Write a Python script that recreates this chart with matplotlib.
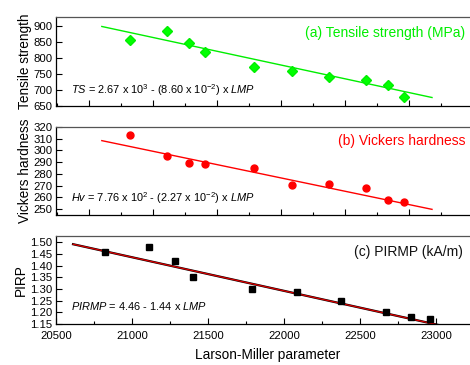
import numpy as np
import matplotlib
matplotlib.use("Agg")
import matplotlib.pyplot as plt

plt.rcParams['font.family'] = ['Liberation Sans', 'DejaVu Sans']
plt.rcParams['mathtext.fontset'] = 'custom'
plt.rcParams['mathtext.rm'] = 'Liberation Sans'
plt.rcParams['mathtext.it'] = 'Liberation Sans:italic'

# Larson-Miller parameter of each sample
lmp = [20822, 21110, 21283, 21403, 21789, 22086, 22375, 22668, 22836, 22958]
ts = [856, 884, 848, 819, 771, 760, 740, 730, 715, 677]
hv = [313.5, 295.4, 289.5, 288.6, 285.3, 270.5, 271.3, 268.3, 257.5, 256.4]
pirp = [1.460, 1.481, 1.419, 1.350, 1.300, 1.286, 1.250, 1.201, 1.178, 1.171]

fit_x = [20600, 23180]
fit_x_c = [20612, 23200]

fig = plt.figure(figsize=(4.7, 3.65), dpi=100)
W = 470.0
H = 365.0
left = 56 / W
width = (480 - 56) / W

ax1 = fig.add_axes([left, 1 - 106 / H, width, 89 / H])
ax2 = fig.add_axes([left, 1 - 215 / H, width, 88 / H])
ax3 = fig.add_axes([left, 1 - 324 / H, width, 88 / H])

for ax in (ax1, ax2, ax3):
    ax.tick_params(direction='in', which='major', length=4, labelsize=8.2, width=0.8, pad=2.5)
    ax.tick_params(direction='in', which='minor', length=2, width=0.8)
    for s in ax.spines.values():
        s.set_linewidth(0.9)
    ax.spines['top'].set_color('#555555')

# (a) tensile strength
x = np.array(fit_x)
ax1.plot(x, 2.67e3 - 8.60e-2 * x, color='#00ee00', lw=1)
ax1.plot(lmp, ts, 'D', color='#00ff00', ms=5.5, mec='#00ee00')
ax1.set_xlim(20242, 23555)
ax1.set_ylim(650, 928)
ax1.set_yticks([650, 700, 750, 800, 850, 900])
ax1.set_xticks(np.arange(20500, 23501, 500))
ax1.set_xticks(np.arange(20250, 23501, 250), minor=True)
ax1.tick_params(labelbottom=False)
ax1.set_ylabel('Tensile strength', fontsize=9.8, labelpad=1)
fig.text(465 / W, 1 - 33 / H, '(a) Tensile strength (MPa)', color='#00ee00',
         fontsize=10, ha='right', va='center')
fig.text(71 / W, 1 - 90 / H,
         r'$\it{TS}$ = 2.67 x 10$^3$ - (8.60 x 10$^{-2}$) x $\it{LMP}$',
         fontsize=7.9, ha='left', va='center')

# (b) Vickers hardness
ax2.plot(x, 7.76e2 - 2.27e-2 * x, color='#ff0000', lw=1)
ax2.plot(lmp, hv, 'o', color='#ff0000', ms=5)
ax2.set_xlim(20242, 23555)
ax2.set_ylim(245, 320)
ax2.set_yticks(np.arange(250, 321, 10))
ax2.set_xticks(np.arange(20500, 23501, 500))
ax2.set_xticks(np.arange(20250, 23501, 250), minor=True)
ax2.tick_params(labelbottom=False)
ax2.set_ylabel('Vickers hardness', fontsize=9.8, labelpad=1)
fig.text(465 / W, 1 - 141 / H, '(b) Vickers hardness', color='#ff0000',
         fontsize=10, ha='right', va='center')
fig.text(71 / W, 1 - 198 / H,
         r'$\it{Hv}$ = 7.76 x 10$^2$ - (2.27 x 10$^{-2}$) x $\it{LMP}$',
         fontsize=7.9, ha='left', va='center')

# (c) PIRMP
xc = np.array(fit_x_c)
ax3.plot(xc, 4.46 - 1.44e-4 * xc, color='black', lw=1.6)
ax3.plot(xc, 4.46 - 1.44e-4 * xc, color='#dd0000', lw=0.9)
ax3.plot(lmp, pirp, 's', color='black', ms=5)
ax3.set_xlim(20500, 23289)
ax3.set_ylim(1.15, 1.527)
ax3.set_yticks(np.arange(1.15, 1.501, 0.05))
ax3.yaxis.set_major_formatter(matplotlib.ticker.FormatStrFormatter('%.2f'))
ax3.set_xticks(np.arange(20500, 23001, 500))
ax3.set_xticks(np.arange(20750, 23251, 250), minor=True)
ax3.tick_params(axis='x', pad=5)
ax3.set_ylabel('PIRP', fontsize=9.8, labelpad=2)
ax3.set_xlabel('Larson-Miller parameter', fontsize=9.8, labelpad=5)
fig.text(463 / W, 1 - 252 / H, '(c) PIRMP (kA/m)', color='#111111',
         fontsize=10, ha='right', va='center')
fig.text(71 / W, 1 - 306 / H,
         r'$\it{PIRMP}$ = 4.46 - 1.44 x $\it{LMP}$',
         fontsize=7.9, ha='left', va='center')

fig.savefig('out.png', dpi=100)
